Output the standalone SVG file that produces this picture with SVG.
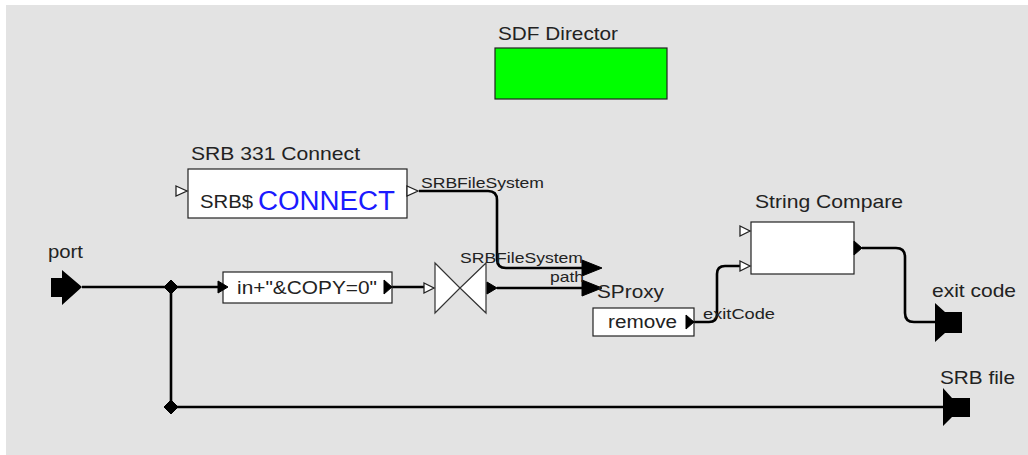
<svg xmlns="http://www.w3.org/2000/svg" width="1028" height="455" viewBox="0 0 1028 455">
<style>
text{font-family:"Liberation Sans",Arial,sans-serif;fill:#222}
.lbl{font-size:18.5px}
.plbl{font-size:14.5px}
.box{fill:#fff;stroke:#222;stroke-width:1.2}
.wire{fill:none;stroke:#000;stroke-width:2.6;stroke-linejoin:round}
.open{fill:#fff;stroke:#222;stroke-width:1.3}
.fill{fill:#000;stroke:#000;stroke-width:1}
</style>
<rect x="6" y="5" width="1022" height="450" fill="#e3e3e3"/>

<g id="director">
<text class="lbl" x="498" y="40" textLength="120" lengthAdjust="spacingAndGlyphs">SDF Director</text>
<rect x="495" y="48" width="172" height="51" fill="#00ff00" stroke="#222" stroke-width="1.2"/>
</g>

<g id="connectors">
<path class="wire" d="M419,191 H488 Q497,191 497,200 V259 Q497,268 506,268 H585"/>
<path class="wire" d="M82,287 H218"/>
<path class="wire" d="M171,287 V407 H943"/>
<path class="wire" d="M392,287 H425"/>
<path class="wire" d="M497,288 H585"/>
<path class="wire" d="M694,322 H709 Q717,322 717,314 V274 Q717,266 725,266 H740"/>
<path class="wire" d="M862,248 H896 Q905,248 905,257 V313 Q905,322 914,322 H935"/>
<polygon class="fill" points="164,287 171,280 178,287 171,294"/>
<polygon class="fill" points="164,407 171,400 178,407 171,414"/>
<polygon class="fill" points="582,260 602,268 582,276"/>
<polygon class="fill" points="582,280 602,288 582,296"/>
</g>

<g id="port">
<text class="lbl" x="48" y="258" textLength="35" lengthAdjust="spacingAndGlyphs">port</text>
<polygon points="51,278 62,278 62,270 82,287 62,305 62,297 51,297" fill="#000"/>
</g>

<g id="srbConnect">
<text class="lbl" x="191" y="160" textLength="169" lengthAdjust="spacingAndGlyphs">SRB 331 Connect</text>
<rect class="box" x="188" y="169" width="219" height="49"/>
<text x="200" y="208" font-size="18" textLength="53" lengthAdjust="spacingAndGlyphs">SRB$</text>
<text x="258" y="210" font-size="27" textLength="137" lengthAdjust="spacingAndGlyphs" style="fill:#1a1aff">CONNECT</text>
<polygon class="open" points="176,186 187,191 176,196"/>
<polygon class="open" points="407,186 418,191 407,196"/>
<text class="plbl" x="421" y="188" textLength="123" lengthAdjust="spacingAndGlyphs">SRBFileSystem</text>
</g>

<g id="expression">
<rect class="box" x="223" y="272" width="169" height="31"/>
<text x="237" y="294" font-size="18" textLength="140" lengthAdjust="spacingAndGlyphs">in+"&amp;COPY=0"</text>
<polygon class="fill" points="218,281 228,287 218,293"/>
<polygon class="fill" points="384,280 392,287 384,294"/>
</g>

<g id="bowtie">
<polygon points="435,263 460,288 435,313" fill="#fff" stroke="#333" stroke-width="1.2"/>
<polygon points="486,263 460,288 486,313" fill="#fff" stroke="#333" stroke-width="1.2"/>
<polygon class="open" points="424,283 434,288 424,293"/>
<polygon class="fill" points="487,282 497,288 487,294"/>
</g>

<g id="sproxy">
<text class="plbl" x="460" y="263" textLength="123" lengthAdjust="spacingAndGlyphs">SRBFileSystem</text>
<text class="plbl" x="550" y="282" textLength="34" lengthAdjust="spacingAndGlyphs">path</text>
<text class="lbl" x="597" y="298" textLength="67" lengthAdjust="spacingAndGlyphs">SProxy</text>
<rect class="box" x="593" y="308" width="101" height="28"/>
<text x="608" y="328" font-size="18" textLength="69" lengthAdjust="spacingAndGlyphs">remove</text>
<polygon class="fill" points="686,315 694,322 686,329"/>
<text class="plbl" x="703" y="319" textLength="72" lengthAdjust="spacingAndGlyphs">exitCode</text>
</g>

<g id="stringCompare">
<text class="lbl" x="755" y="208" textLength="148" lengthAdjust="spacingAndGlyphs">String Compare</text>
<rect class="box" x="751" y="222" width="103" height="52"/>
<polygon class="open" points="740,226 750,231 740,236"/>
<polygon class="open" points="740,261 750,266 740,271"/>
<polygon class="fill" points="854,241 862,248 854,255"/>
</g>

<g id="exitCode">
<text class="lbl" x="932" y="297" textLength="84" lengthAdjust="spacingAndGlyphs">exit code</text>
<polygon points="935,303 945,312 962,312 962,333 945,333 935,342" fill="#000"/>
</g>

<g id="srbFile">
<text class="lbl" x="940" y="384" textLength="75" lengthAdjust="spacingAndGlyphs">SRB file</text>
<polygon points="943,388 952,398 970,398 970,417 952,417 943,426" fill="#000"/>
</g>
</svg>
